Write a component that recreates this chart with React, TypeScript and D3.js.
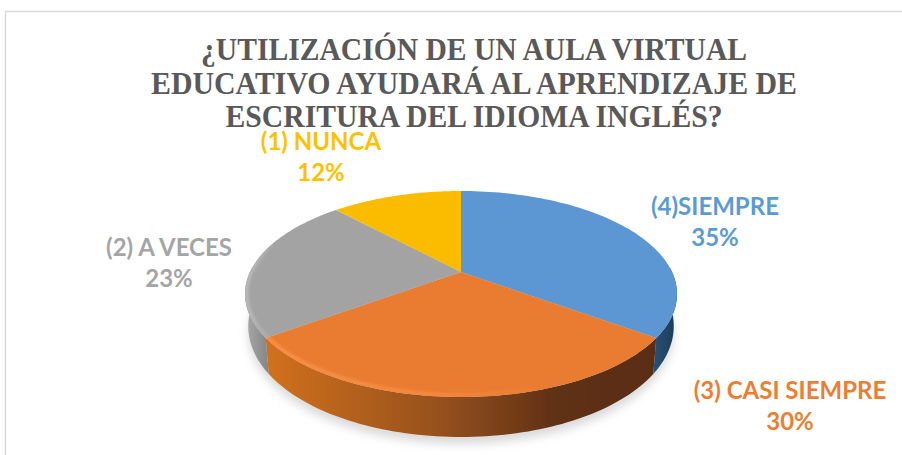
import React from "react";
import * as d3 from "d3";

const categories = ["(4)SIEMPRE", "(3) CASI SIEMPRE", "(2) A VECES", "(1) NUNCA"];
const values = [35, 30, 23, 12];
const colors = ["#5B9BD5", "#ED7D31", "#A5A5A5", "#FFC000"];
const faceColors = ["#5B97D3", "#EA7B30", "#A3A3A3", "#FBBC00"];
const titleLines = [
  "¿UTILIZACIÓN DE UN AULA VIRTUAL",
  "EDUCATIVO AYUDARÁ AL APRENDIZAJE DE",
  "ESCRITURA DEL IDIOMA INGLÉS?",
];
const titleWidths = [546, 646, 497];
const titleBaselines = [60, 94, 127];
const labelCenters = [[715, 215], [790, 399], [169, 256], [321, 150]];
const sideStops = [
  [["0%", "#2f5f8a"], ["100%", "#1c3a56"]],
  [["0%", "#d0701f"], ["45%", "#95501f"], ["75%", "#5f3013"], ["100%", "#5a2e12"]],
  [["0%", "#a8a8a8"], ["100%", "#7f7f7f"]],
  [["0%", "#a0a0a0"], ["100%", "#a0a0a0"]],
];
const rimColors = ["#7db5ea", "#ff9a50", "#c4c4c4", "#ffd040"];

const W = 902, H = 455;
const cx = 461, cy = 272, rad = 211, persp = 0.2136, vert = 98.3, depth = 40;

// perspective projection of a point on the unit disc
const project = (theta: number, inset = 0): [number, number] => {
  const u = Math.sin(theta), v = -Math.cos(theta);
  const k = 1 - persp * v;
  return [cx + ((rad - inset) * u) / k, cy + ((vert - inset) * v) / k];
};
// lower outline of the wall: slightly narrower, and shallower towards the sides
const projectBase = (theta: number): [number, number] => {
  const [x, y] = project(theta);
  const v = -Math.cos(theta);
  return [cx + (x - cx) * 0.985, y + depth * (0.75 + 0.25 * v)];
};
const line = d3.line<[number, number]>();
const samples = d3.range(0, 1.0001, 1 / 80);
const arcPts = (a0: number, a1: number, fn: (t: number) => [number, number] = project) =>
  samples.map((t) => fn(d3.interpolateNumber(a0, a1)(t)));

const pie = d3.pie<number>().sort(null)(values);
const TAU = Math.PI * 2;
const full = arcPts(0, TAU);

export default function App() {
  const sliceD = (a0: number, a1: number) => line([[cx, cy], ...arcPts(a0, a1)]) + "Z";
  const sideD = (a0: number, a1: number) => {
    const lo = Math.max(a0, Math.PI / 2 - 0.05), hi = Math.min(a1, (3 * Math.PI) / 2 + 0.05);
    if (hi <= lo) return null;
    return line([...arcPts(lo, hi), ...arcPts(lo, hi, projectBase).reverse()]) + "Z";
  };
  return (
    <svg width={W} height={H} viewBox={`0 0 ${W} ${H}`} style={{ position: "absolute", left: 0, top: 0, background: "#fff" }}>
      <defs>
        <filter id="shadow" x="-20%" y="-20%" width="140%" height="140%"><feGaussianBlur stdDeviation="5" /></filter>
        <filter id="soft" x="-5%" y="-5%" width="110%" height="110%"><feGaussianBlur stdDeviation="1.5" /></filter>
        <filter id="edge" x="-5%" y="-5%" width="110%" height="110%"><feGaussianBlur stdDeviation="0.6" /></filter>
        <clipPath id="faceClip"><path d={line(full) + "Z"} /></clipPath>
        {sideStops.map((stops, i) => (
          <linearGradient key={i} id={`side${i}`} gradientUnits="userSpaceOnUse"
            x1={i === 0 ? 640 : i === 1 ? 270 : 246} x2={i === 0 ? 677 : i === 1 ? 653 : 272} y1={0} y2={0}>
            {stops.map(([o, c]) => <stop key={o} offset={o} stopColor={c} />)}
          </linearGradient>
        ))}
        <linearGradient id="rim1" gradientUnits="userSpaceOnUse" x1={270} x2={540} y1={0} y2={0}>
          <stop offset="0%" stopColor={rimColors[1]} stopOpacity={0.9} />
          <stop offset="60%" stopColor={rimColors[1]} stopOpacity={0.6} />
          <stop offset="100%" stopColor={rimColors[1]} stopOpacity={0} />
        </linearGradient>
        <linearGradient id="rim2" gradientUnits="userSpaceOnUse" x1={246} x2={275} y1={0} y2={0}>
          <stop offset="0%" stopColor={rimColors[2]} stopOpacity={0.9} />
          <stop offset="100%" stopColor={rimColors[2]} stopOpacity={0.2} />
        </linearGradient>
      </defs>
      <path d={`M5.5 ${H}V11.5H${W}`} fill="none" stroke="#d9d9d9" strokeWidth={1.5} />
      <path d={line(arcPts(0, TAU, projectBase).map(([x, y]) => [x, y + 7] as [number, number])) + "Z"} fill="#b5b5b5" opacity={0.5} filter="url(#shadow)" />
      {pie.map((p, i) => {
        const d = sideD(p.startAngle, p.endAngle);
        return d ? <path key={i} d={d} fill={`url(#side${i})`} filter="url(#edge)" /> : null;
      })}
      {pie.map((p, i) => (
        <path key={i} d={sliceD(p.startAngle, p.endAngle)} fill={faceColors[i]} filter="url(#edge)" />
      ))}
      <g clipPath="url(#faceClip)">
        {[1, 2].map((i) => (
          <path key={i} d={line(arcPts(pie[i].startAngle, Math.min(pie[i].endAngle, (3 * Math.PI) / 2 + 0.3), (a) => project(a, 1.5)))!}
            fill="none" stroke={`url(#rim${i})`} strokeWidth={3} filter="url(#soft)" />
        ))}
      </g>
      {titleLines.map((t, i) => (
        <text key={i} x={W / 2 + 23} y={titleBaselines[i]} textAnchor="middle" textLength={titleWidths[i]} lengthAdjust="spacingAndGlyphs"
          fontFamily="'Liberation Serif'" fontWeight={700} fontSize={32} fill="#595959">{t}</text>
      ))}
      {categories.map((c, i) => (
        <g key={c} fontFamily="Lato" fontWeight={700} fontSize={24} fill={colors[i]} textAnchor="middle">
          <text x={labelCenters[i][0]} y={labelCenters[i][1]}>{c}</text>
          <text x={labelCenters[i][0]} y={labelCenters[i][1] + 31}>{values[i]}%</text>
        </g>
      ))}
    </svg>
  );
}
